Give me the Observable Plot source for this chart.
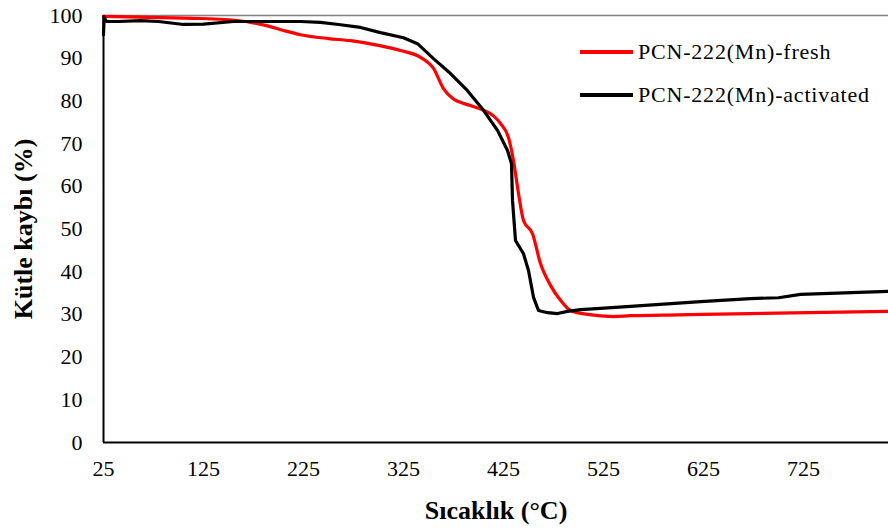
<!DOCTYPE html>
<html>
<head>
<meta charset="utf-8">
<script src="https://cdn.jsdelivr.net/npm/d3@7"></script>
<script src="https://cdn.jsdelivr.net/npm/@observablehq/plot@0.6"></script>
<style>
  html, body { margin: 0; padding: 0; background: #fff; }
  #wrap { position: relative; width: 888px; height: 530px; overflow: hidden; font-family: "Liberation Serif", "Times New Roman", serif; }
  #chart svg, #chart svg text { font-family: "Liberation Serif", "Times New Roman", serif !important; }
  #legend { position: absolute; left: 580px; top: 30px; font-size: 22px; letter-spacing: 0.8px; color: #000; }
  #legend .row { display: flex; align-items: center; height: 43px; }
  #legend .sw { width: 53px; height: 0; border-top: 4px solid; margin-right: 5px; }
</style>
</head>
<body>
<div id="wrap">
  <div id="chart"></div>
  <div id="legend"></div>
</div>
<script>
// Temperature (°C) and mass (%) readings for each sample
const freshT = [25, 60, 122, 150, 172, 190, 205, 222, 250, 272, 300, 322, 342, 355, 365, 374, 392, 405, 415, 422, 430, 435, 440, 445, 454, 462, 472, 482, 492, 509, 535, 552, 600, 672, 810];
const freshM = [99.8, 99.6, 99.3, 99.0, 98.4, 97.5, 96.5, 95.5, 94.6, 94.1, 93.0, 91.8, 90.2, 87.6, 82.9, 80.6, 78.9, 77.8, 76.5, 74.7, 71.4, 66.0, 58.3, 52.0, 48.9, 41.9, 36.8, 33.3, 30.9, 30.0, 29.5, 29.7, 29.9, 30.2, 30.7];

const actT = [25, 25.6, 28, 40, 62, 80, 105, 125, 155, 185, 222, 242, 260, 282, 302, 325, 339, 355, 372, 389, 405, 419, 429, 433, 434, 437, 445, 450, 455, 460, 469, 479, 489, 502, 522, 552, 622, 672, 700, 722, 810];
const actM = [95.5, 99.6, 98.6, 98.6, 98.8, 98.6, 97.9, 98.0, 98.6, 98.6, 98.6, 98.4, 97.9, 97.2, 96.0, 94.8, 93.4, 89.9, 86.4, 82.4, 77.8, 73.1, 68.4, 65.3, 56.7, 47.3, 44.2, 40.3, 34.0, 30.9, 30.4, 30.2, 30.7, 31.1, 31.4, 31.9, 33.0, 33.7, 33.9, 34.7, 35.4];

const seriesNames = ["PCN-222(Mn)-fresh", "PCN-222(Mn)-activated"];
const seriesColors = ["#ff0000", "#000000"];
const xTicks = [25, 125, 225, 325, 425, 525, 625, 725];
const yTicks = [0, 10, 20, 30, 40, 50, 60, 70, 80, 90, 100];
const xLabel = "Sıcaklık (°C)";
const yLabel = "Kütle kaybı (%)";

const fresh = freshT.map((t, i) => ({T: t, m: freshM[i], s: seriesNames[0]}));
const act = actT.map((t, i) => ({T: t, m: actM[i], s: seriesNames[1]}));

const serif = "Liberation Serif";

const chart = Plot.plot({
  width: 888,
  height: 530,
  marginLeft: 103,
  marginRight: 0,
  marginTop: 15,
  marginBottom: 88,
  style: { fontFamily: serif, fontSize: "22px", color: "#000", background: "#fff", overflow: "visible" },
  x: { domain: [25, 810] },
  y: { domain: [0, 100] },
  color: { domain: seriesNames, range: seriesColors },
  marks: [
    Plot.ruleY([100], { stroke: "#808080", strokeWidth: 1.5 }),
    Plot.axisX({ ticks: xTicks, tickSize: 0, tickPadding: 18, fontSize: 22, fontFamily: serif, label: null }),
    Plot.axisY({ ticks: yTicks, tickSize: 0, tickPadding: 21, fontSize: 22, fontFamily: serif, label: null }),
    Plot.axisX({ ticks: [], tickSize: 0, label: xLabel, labelAnchor: "center", labelArrow: "none", labelOffset: 76, fontSize: 26, fontWeight: "bold", fontFamily: serif }),
    Plot.axisY({ ticks: [], tickSize: 0, label: yLabel, labelAnchor: "center", labelArrow: "none", labelOffset: 90, fontSize: 26, fontWeight: "bold", fontFamily: serif }),
    Plot.line(fresh, { x: "T", y: "m", stroke: "s", strokeWidth: 3.2, curve: "monotone-x" }),
    Plot.line(act, { x: "T", y: "m", stroke: "s", strokeWidth: 3.2, curve: "linear" }),
    Plot.ruleX([25], { stroke: "#000", strokeWidth: 2 }),
    Plot.ruleY([0], { stroke: "#000", strokeWidth: 2 })
  ]
});
document.getElementById("chart").appendChild(chart);

const legend = document.getElementById("legend");
seriesNames.forEach((n, i) => {
  const row = document.createElement("div");
  row.className = "row";
  const sw = document.createElement("div");
  sw.className = "sw";
  sw.style.borderTopColor = seriesColors[i];
  const tx = document.createElement("span");
  tx.textContent = n;
  row.appendChild(sw);
  row.appendChild(tx);
  legend.appendChild(row);
});
</script>
</body>
</html>
